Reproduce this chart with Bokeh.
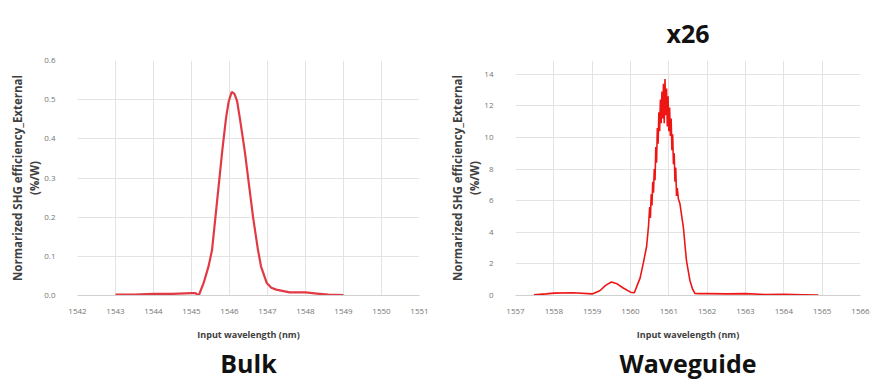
from bokeh.plotting import figure
from bokeh.layouts import row
from bokeh.models import FixedTicker, Range1d, Title, NumeralTickFormatter
from bokeh.embed import file_html
from bokeh.resources import INLINE

# Bulk data
bulk_wl = [1543.0, 1543.5, 1544.0, 1544.5, 1545.0, 1545.1, 1545.19, 1545.32, 1545.45,
           1545.54, 1545.63, 1545.72, 1545.81, 1545.91, 1545.98, 1546.06, 1546.13,
           1546.2, 1546.27, 1546.4, 1546.51, 1546.62, 1546.75, 1546.83, 1546.98,
           1547.1, 1547.23, 1547.58, 1548.0, 1548.3, 1548.6, 1549.0]
bulk_eff = [0.002, 0.002, 0.004, 0.004, 0.006, 0.006, 0.0, 0.032, 0.075,
            0.116, 0.2, 0.285, 0.37, 0.454, 0.496, 0.52, 0.515,
            0.496, 0.454, 0.37, 0.285, 0.2, 0.116, 0.074, 0.032,
            0.02, 0.015, 0.008, 0.008, 0.005, 0.002, 0.001]

# Waveguide data
wg_wl = [1557.48, 1557.8, 1558.0, 1558.5, 1559.0, 1559.2, 1559.35, 1559.5, 1559.65,
         1559.8, 1560.0, 1560.1, 1560.2, 1560.25, 1560.33, 1560.42, 1560.47, 1560.5,
         1560.52, 1560.54, 1560.56, 1560.58, 1560.6, 1560.62, 1560.64, 1560.66, 1560.68,
         1560.7, 1560.72, 1560.74, 1560.76, 1560.78, 1560.8, 1560.82, 1560.84, 1560.86,
         1560.88, 1560.9, 1560.92, 1560.94, 1560.96, 1560.98, 1561.0, 1561.02, 1561.04,
         1561.06, 1561.08, 1561.1, 1561.12, 1561.14, 1561.16, 1561.18, 1561.2, 1561.22,
         1561.25, 1561.29, 1561.38, 1561.46, 1561.55, 1561.62, 1561.68, 1561.8, 1562.0,
         1562.5, 1563.0, 1563.5, 1564.0, 1564.5, 1564.9]
wg_eff = [0.04, 0.1, 0.15, 0.17, 0.1, 0.3, 0.64, 0.85, 0.74,
          0.49, 0.21, 0.17, 0.8, 1.1, 2.0, 3.1, 4.4, 5.6,
          4.9, 6.4, 5.7, 7.2, 6.5, 8.0, 7.3, 9.4, 8.4, 10.6,
          9.6, 11.6, 10.4, 12.4, 10.9, 12.9, 11.2, 13.4, 10.9,
          13.7, 11.4, 13.1, 10.7, 12.6, 10.4, 11.9, 10.1, 11.2,
          9.2, 10.2, 8.3, 9.0, 7.2, 8.1, 6.3, 6.8,
          6.1, 5.8, 4.3, 2.2, 0.95, 0.4, 0.13, 0.12, 0.12,
          0.1, 0.12, 0.06, 0.07, 0.05, 0.03]

bulk_xticks = [1542, 1543, 1544, 1545, 1546, 1547, 1548, 1549, 1550, 1551]
bulk_yticks = [0.0, 0.1, 0.2, 0.3, 0.4, 0.5, 0.6]
wg_xticks = [1557, 1558, 1559, 1560, 1561, 1562, 1563, 1564, 1565, 1566]
wg_yticks = [0, 2, 4, 6, 8, 10, 12, 14]

FONT = "Open Sans"
YLABEL_1 = "Normarized SHG efficiency_External"
YLABEL_2 = "(%/W)"


def make(width, xr, yr, xt, yt, fmt, xs, ys, color, lw, top_title, bottom_title, bl, br, bt, bb):
    p = figure(width=width, height=383, output_backend="svg", toolbar_location=None,
               x_range=Range1d(*xr), y_range=Range1d(*yr),
               min_border_left=bl, min_border_right=br, min_border_top=bt, min_border_bottom=bb)
    p.outline_line_color = None
    p.xaxis.ticker = FixedTicker(ticks=xt)
    p.yaxis.ticker = FixedTicker(ticks=yt)
    p.yaxis.formatter = NumeralTickFormatter(format=fmt)
    for ax in (p.xaxis[0], p.yaxis[0]):
        ax.major_tick_line_color = None
        ax.minor_tick_line_color = None
        ax.major_label_text_font = FONT
        ax.major_label_text_font_size = "8px"
        ax.major_label_text_color = "#767676"
        ax.axis_label_text_font = FONT
        ax.axis_label_text_font_size = "9px"
        ax.axis_label_text_font_style = "bold"
        ax.axis_label_text_color = "#404040"
    p.yaxis.axis_line_color = None
    p.xaxis.axis_line_color = "#d0d0d0"
    p.xaxis.major_label_standoff = 7
    p.yaxis.major_label_standoff = 16
    p.xaxis.axis_label = "Input wavelength (nm)"
    p.xaxis.axis_label_standoff = 11
    p.xgrid.grid_line_color = "#e3e3e3"
    p.ygrid.grid_line_color = "#e3e3e3"
    p.line(xs, ys, line_color=color, line_width=lw)
    p.add_layout(Title(text=YLABEL_2, align="center", text_font=FONT, text_font_size="11.5px",
                       text_font_style="bold", text_color="#404040", standoff=0), "left")
    p.add_layout(Title(text=YLABEL_1, align="center", text_font=FONT, text_font_size="11.5px",
                       text_font_style="bold", text_color="#404040", standoff=0), "left")
    if top_title:
        p.add_layout(Title(text=top_title, align="center", text_font=FONT,
                           text_font_size="25px", text_font_style="bold", text_color="#111111",
                           standoff=22), "above")
    p.add_layout(Title(text=bottom_title, align="center", text_font=FONT, text_font_size="25px",
                       text_font_style="bold", text_color="#111111", standoff=0), "below")
    return p


p1 = make(440, (1542, 1551), (0, 0.6), bulk_xticks, bulk_yticks, "0.0",
          bulk_wl, bulk_eff, "#e23a44", 2.2, None, "Bulk", 77, 21, 60, 87)
p2 = make(443, (1557, 1566), (0, 14.87), wg_xticks, wg_yticks, "0",
          wg_wl, wg_eff, "#ee1515", 1.6, "x26", "Waveguide", 75, 23, 60, 88)

layout = row(p1, p2)
open("out.html", "w").write(file_html(layout, INLINE))
